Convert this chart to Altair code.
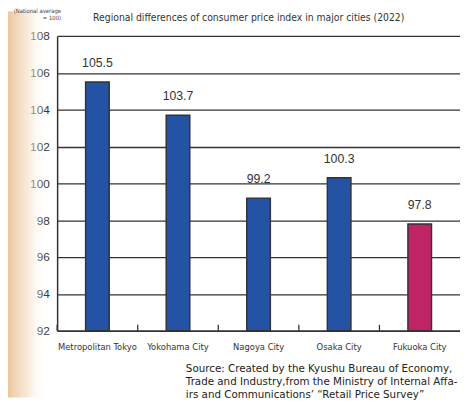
import altair as alt
import pandas as pd

cities = ["Metropolitan Tokyo", "Yokohama City", "Nagoya City", "Osaka City", "Fukuoka City"]
values = [105.5, 103.7, 99.2, 100.3, 97.8]
bar_colors = ["#2453A5", "#2453A5", "#2453A5", "#2453A5", "#BF2566"]
y_ticks = [92, 94, 96, 98, 100, 102, 104, 106, 108]
title_text = "Regional differences of consumer price index in major cities (2022)"
note_lines = ["(National average", "= 100)"]
source_lines = [
    "Source: Created by the Kyushu Bureau of Economy,",
    "Trade and Industry,from the Ministry of Internal Affa-",
    "irs and Communications\u2019 \u201cRetail Price Survey\u201d",
]

df = pd.DataFrame({"city": cities, "value": values,
                   "label": [f"{v:.1f}" for v in values]})
one = pd.DataFrame({"a": [0]})

COND = "DejaVu Sans Condensed"
W, H = 410, 300

xscale = alt.Scale(domain=cities, paddingInner=0, paddingOuter=0)
yscale = alt.Scale(domain=[92, 108], nice=False, zero=False)

xaxis = alt.Axis(ticks=False, labelAngle=0, labelFont=COND,
                 labelFontSize=9.5, labelColor="#333", labelPadding=11,
                 domainColor="#333", domainWidth=1.5, grid=False)
yaxis = alt.Axis(values=y_ticks, grid=True, gridColor="#333", gridWidth=1.3,
                 tickSize=0, labelFontSize=12, labelColor="#333",
                 labelPadding=8, domainColor="#333", domainWidth=1.5,
                 labelOverlap=False, labelFont="Liberation Sans")

grad = alt.LinearGradient(
    gradient="linear",
    stops=[alt.GradientStop(color="rgba(235,197,156,1)", offset=0),
           alt.GradientStop(color="rgba(245,225,200,0.7)", offset=0.5),
           alt.GradientStop(color="rgba(255,255,255,0)", offset=1)],
    x1=0, x2=1, y1=0, y2=0)

bg = alt.Chart(one).mark_rect(fill=grad).encode(
    x=alt.value(-50), x2=alt.value(-10), y=alt.value(-25), y2=alt.value(H + 68))

base = alt.Chart(df)

X = alt.X("city:N", sort=cities, title=None, scale=xscale, axis=xaxis)
Y = alt.Y("value:Q", scale=yscale, title=None, axis=yaxis)

bars = base.mark_bar(size=24, stroke="#333", strokeWidth=1.5).encode(
    x=X, y=Y,
    y2=alt.datum(92),
    color=alt.Color("city:N", scale=alt.Scale(domain=cities, range=bar_colors), legend=None),
)

labels = base.mark_text(fontSize=12.5, color="#333", font="Liberation Sans",
                        baseline="middle", dy=-19).encode(
    x=X, y=Y, text="label:N",
)

ticks = base.mark_rule(color="#333", strokeWidth=1.3).encode(
    x=alt.X("city:N", sort=cities, title=None, scale=xscale, axis=xaxis, bandPosition=0),
    y=alt.value(H), y2=alt.value(H - 6),
)

title = alt.Chart(one).mark_text(fontSize=10.5, font=COND, color="#333",
                                 align="center", baseline="middle").encode(
    x=alt.value(195), y=alt.value(-18), text=alt.value(title_text))

note1 = alt.Chart(one).mark_text(fontSize=6, font=COND, color="#444",
                                 align="right", baseline="middle").encode(
    x=alt.value(4), y=alt.value(-25), text=alt.value(note_lines[0]))
note2 = alt.Chart(one).mark_text(fontSize=6, font=COND, color="#444",
                                 align="right", baseline="middle").encode(
    x=alt.value(4), y=alt.value(-18), text=alt.value(note_lines[1]))

src = [alt.Chart(one).mark_text(fontSize=10.5, font="DejaVu Sans", color="#222",
                                align="left", baseline="middle").encode(
    x=alt.value(131), y=alt.value(H + 39 + 13 * i), text=alt.value(t))
    for i, t in enumerate(source_lines)]

chart = alt.layer(bg, bars, labels, ticks, title, note1, note2, *src).properties(
    width=W, height=H,
    autosize=alt.AutoSizeParams(type="none"),
    padding={"left": 50, "top": 25, "right": 0, "bottom": 68},
).configure_view(stroke=None).configure(background="white")

chart.save("out.html", embed_options={"renderer": "svg", "actions": False})
